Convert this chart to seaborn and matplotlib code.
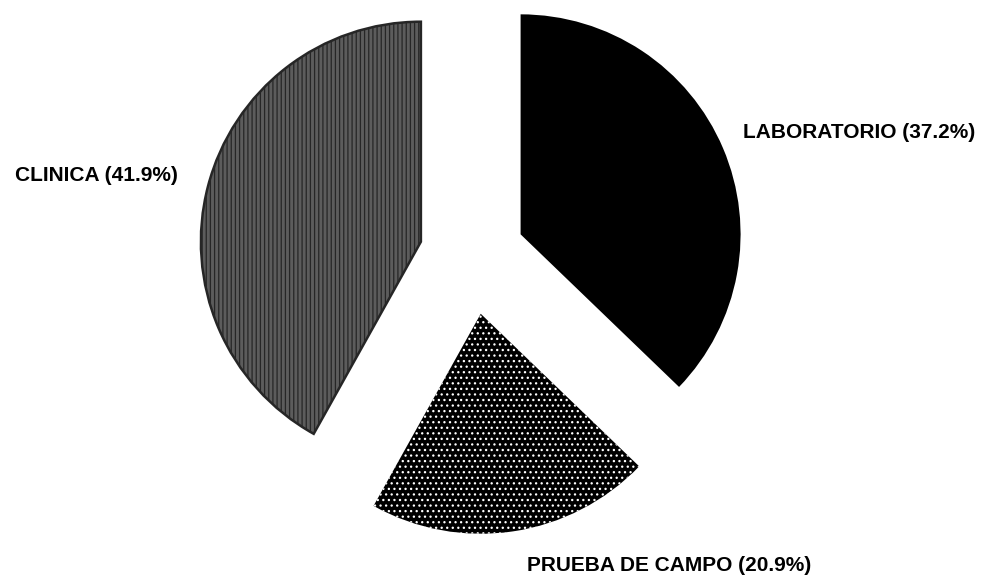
import matplotlib
matplotlib.use("Agg")
import matplotlib.pyplot as plt
import seaborn as sns

# Data
labels = ["LABORATORIO", "PRUEBA DE CAMPO", "CLINICA"]
shares = [37.2, 20.9, 41.9]

sns.set_theme(style="white")
plt.rcParams["font.family"] = ["Liberation Sans", "DejaVu Sans"]
plt.rcParams["hatch.linewidth"] = 0.9

fig = plt.figure(figsize=(9.89, 5.84), dpi=100)
ax = fig.add_axes([0, 0, 1, 1])

wedges, _ = ax.pie(
    shares,
    startangle=90,
    counterclock=False,
    explode=[0.24, 0.27, 0.24],
    radius=1.0,
    wedgeprops={"linewidth": 0},
)

# black / dotted / vertical-striped fills like the printed original
wedges[0].set_facecolor("black")
wedges[0].set_edgecolor("black")

wedges[1].set_facecolor("black")
wedges[1].set_edgecolor("white")
wedges[1].set_hatch("...")

wedges[2].set_facecolor("#5c5c5c")
wedges[2].set_edgecolor("#262626")
wedges[2].set_hatch("||||")
wedges[2].set_linewidth(1.8)

# pixel layout: centre ~ (472, 255), radius ~ 220 px
ax.set_xlim(-472 / 220, (989 - 472) / 220)
ax.set_ylim((255 - 584) / 220, 255 / 220)
ax.set_aspect("equal")
ax.axis("off")

txt = dict(fontsize=15, fontweight="bold", color="black", va="center", ha="left")
ax.text(-2.075, 0.36, f"{labels[2]} ({shares[2]}%)", **txt)
ax.text(1.23, 0.555, f"{labels[0]} ({shares[0]}%)", **txt)
ax.text(0.25, -1.41, f"{labels[1]} ({shares[1]}%)", **txt)

fig.savefig("out.png", dpi=100)
